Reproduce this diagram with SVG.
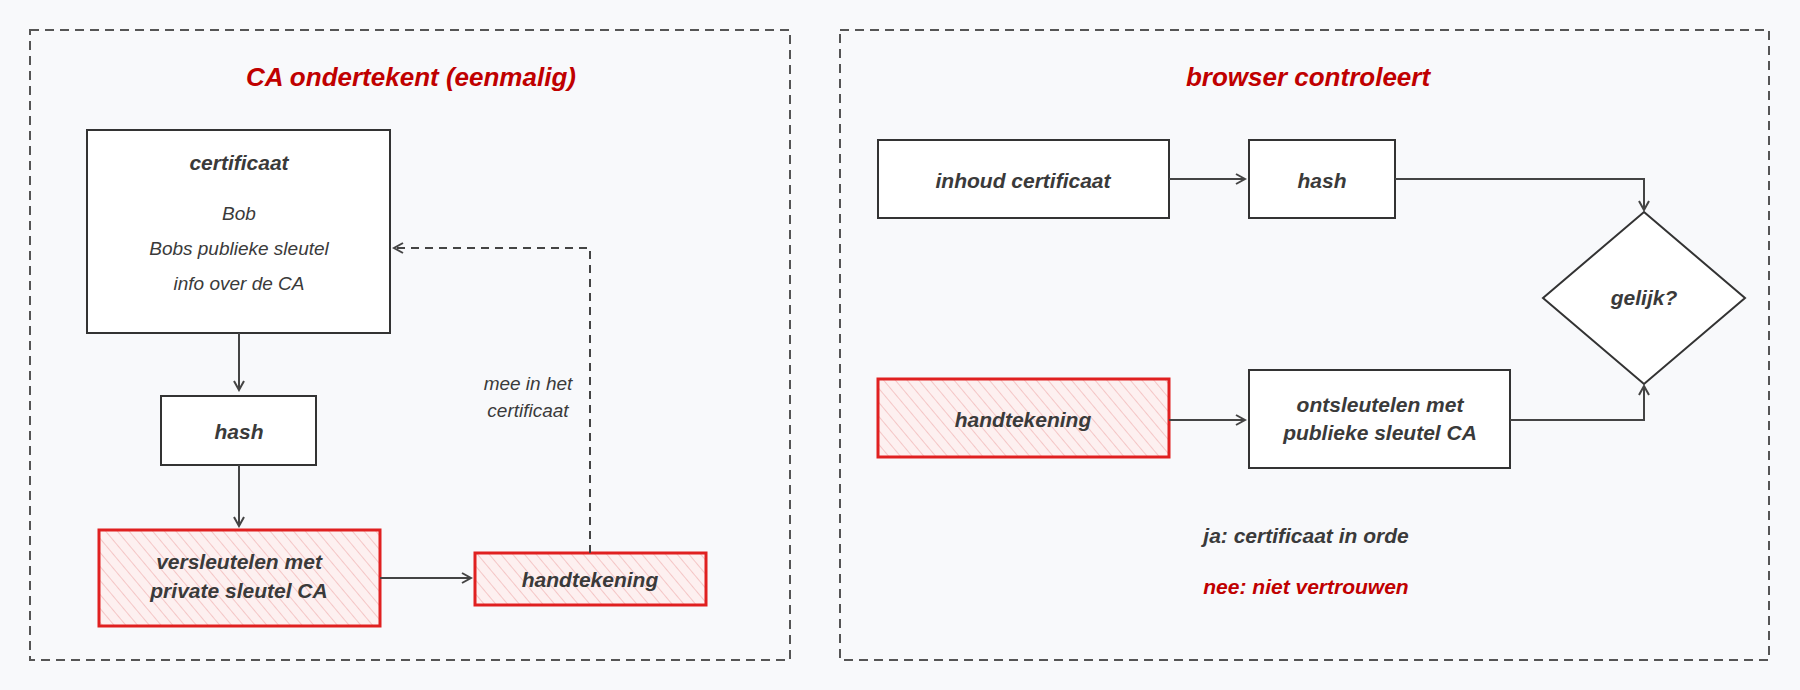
<svg xmlns="http://www.w3.org/2000/svg" width="1800" height="690" viewBox="0 0 1800 690">
<style>
text{font-family:"Liberation Sans",Arial,sans-serif;font-style:italic;fill:#3a3a3a;text-anchor:middle;font-size:19px}
.t{fill:#c00000;font-size:26px;font-weight:bold}
.b{font-weight:bold;font-size:21px}
.box{fill:#fff;stroke:#333;stroke-width:2}
.red{fill:url(#h);stroke:#e02020;stroke-width:3}
.frame{fill:none;stroke:#555;stroke-width:2;stroke-dasharray:9 6}
.c{fill:none;stroke:#444;stroke-width:2}
</style>
<defs>
<pattern id="h" width="9" height="9" patternUnits="userSpaceOnUse" patternTransform="rotate(-40)">
<rect width="9" height="9" fill="#fdf0f0"/><line x1="0" y1="0" x2="0" y2="9" stroke="#f2b8b8" stroke-width="1.5"/></pattern>
<marker id="a" markerWidth="12" markerHeight="12" refX="10" refY="6" orient="auto" markerUnits="userSpaceOnUse"><path d="M1,1 L10,6 L1,11" fill="none" stroke="#444" stroke-width="2"/></marker>
</defs>
<rect width="1800" height="690" fill="#f8f9fb"/>
<rect class="frame" x="30" y="30" width="760" height="630"/>
<rect class="frame" x="840" y="30" width="929" height="630"/>
<text class="t" x="411" y="86">CA ondertekent (eenmalig)</text>
<text class="t" x="1308" y="86">browser controleert</text>
<g id="cert"><rect class="box" x="87" y="130" width="303" height="203"/><text class="b" x="239" y="170">certificaat</text><text x="239" y="220">Bob</text><text x="239" y="255">Bobs publieke sleutel</text><text x="239" y="290">info over de CA</text></g>
<g id="hash1"><rect class="box" x="161" y="396" width="155" height="69"/><text class="b" x="239" y="439">hash</text></g>
<g id="vers"><rect class="red" x="99" y="530" width="281" height="96"/><text class="b" x="239" y="569">versleutelen met</text><text class="b" x="239" y="598">private sleutel CA</text></g>
<g id="hand1"><rect class="red" x="475" y="553" width="231" height="52"/><text class="b" x="590" y="587">handtekening</text></g>
<g id="inhoud"><rect class="box" x="878" y="140" width="291" height="78"/><text class="b" x="1023" y="188">inhoud certificaat</text></g>
<g id="hash2"><rect class="box" x="1249" y="140" width="146" height="78"/><text class="b" x="1322" y="188">hash</text></g>
<g id="gelijk"><polygon class="box" points="1644,212 1745,298 1644,384 1543,298"/><text class="b" x="1644" y="305">gelijk?</text></g>
<g id="hand2"><rect class="red" x="878" y="379" width="291" height="78"/><text class="b" x="1023" y="427">handtekening</text></g>
<g id="ont"><rect class="box" x="1249" y="370" width="261" height="98"/><text class="b" x="1380" y="412">ontsleutelen met</text><text class="b" x="1380" y="440">publieke sleutel CA</text></g>
<text x="528" y="390">mee in het</text><text x="528" y="417">certificaat</text>
<text class="b" x="1306" y="543">ja: certificaat in orde</text>
<text class="b" x="1306" y="594" style="fill:#c00000">nee: niet vertrouwen</text>
<g id="connectors">
<path class="c" marker-end="url(#a)" d="M239,333 V390"/>
<path class="c" marker-end="url(#a)" d="M239,465 V526"/>
<path class="c" marker-end="url(#a)" d="M380,578 H471"/>
<path class="c" marker-end="url(#a)" d="M590,553 V248 H394" stroke-dasharray="8 6"/>
<path class="c" marker-end="url(#a)" d="M1169,179 H1245"/>
<path class="c" marker-end="url(#a)" d="M1395,179 H1644 V210"/>
<path class="c" marker-end="url(#a)" d="M1169,420 H1245"/>
<path class="c" marker-end="url(#a)" d="M1510,420 H1644 V386"/>
</g>
</svg>
